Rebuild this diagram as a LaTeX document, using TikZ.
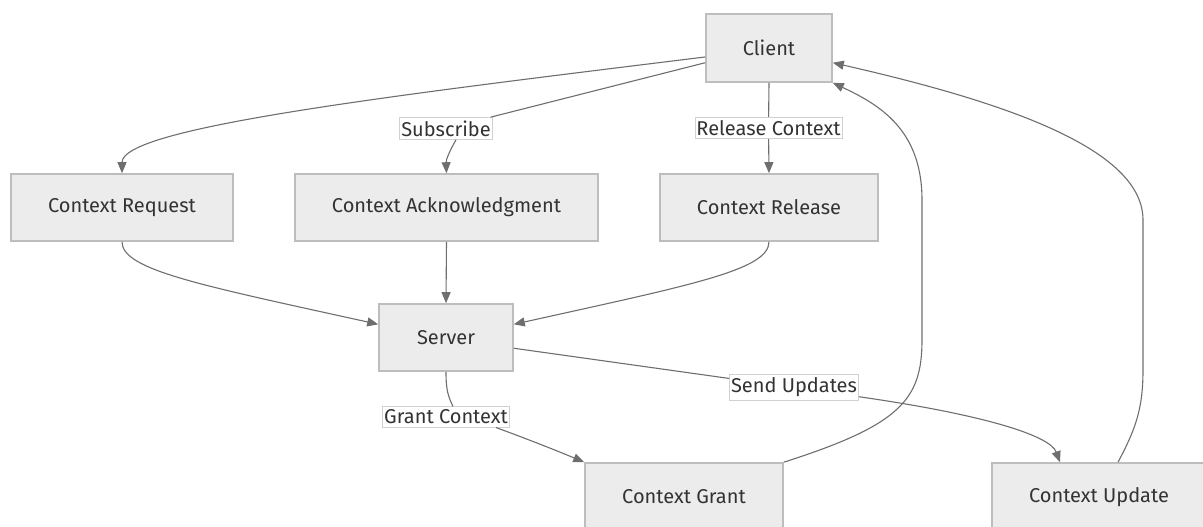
\documentclass[tikz,border=0pt]{standalone}
\usepackage{fontspec}
\setmainfont{Fira Sans}
\usetikzlibrary{arrows.meta,calc}
\definecolor{boxfill}{HTML}{ECECEC}
\definecolor{boxline}{HTML}{BDBDBD}
\definecolor{inkcol}{HTML}{333333}
\definecolor{wirecol}{HTML}{6E6E6E}
\tikzset{
  box/.style={draw=boxline, line width=1.6pt, fill=boxfill, text=inkcol,
    minimum height=67pt, inner sep=0pt, font=\fontsize{20}{24}\selectfont},
  tag/.style={draw=boxline!70, line width=0.8pt, fill=white, text=inkcol,
    inner xsep=1.5pt, inner ysep=3pt, font=\fontsize{20}{24}\selectfont},
  wire/.style={draw=wirecol, line width=1.1pt},
  arr/.style={wire, -{Triangle[length=11pt,width=9pt]}},
}
\begin{document}
\begin{tikzpicture}[x=1pt,y=-1pt]
  \useasboundingbox (0,0) rectangle (1203,527);
  \clip (0,0) rectangle (1203,527);

  % process boxes
  \node[box, minimum width=126pt, minimum height=68pt] (client) at (769,48) {Client};
  \node[box, minimum width=222pt] (req)    at (122,207.5)   {Context Request};
  \node[box, minimum width=303pt] (ack)    at (446.5,207.5) {Context Acknowledgment};
  \node[box, minimum width=218pt] (rel)    at (769,207.5)   {Context Release};
  \node[box, minimum width=134pt] (server) at (446,337.5)   {Server};
  \node[box, minimum width=198pt, minimum height=68pt] (grant)  at (684,497)  {Context Grant};
  \node[box, minimum width=214pt, minimum height=68pt] (update) at (1099,497) {Context Update};

  % edge label boxes
  \node[tag] (sub)   at (446,128.5) {Subscribe};
  \node[tag] (relc)  at (768.5,128) {Release Context};
  \node[tag] (sendu) at (794,387.5) {Send Updates};
  \node[tag] (grantc) at (446,417)  {Grant Context};

  % client to the three request boxes
  \draw[arr] (client.188) .. controls (380,97) and (122,128) .. (req.north);
  \draw[wire] (client.193) -- (sub);
  \draw[arr] ([xshift=10pt]sub.south) .. controls (449,152) and (446,160) .. (ack.north);
  \draw[wire] (client.south) -- (relc);
  \draw[arr] (relc) -- (rel.north);

  % request boxes to server
  \draw[arr] (req.south) .. controls (122,270) and (200,285) .. (server.169);
  \draw[arr] (ack.south) -- (server.north);
  \draw[arr] (rel.south) .. controls (769,270) and (691,285) .. (server.11);

  % server to grant and update
  \draw[wire] (server.south) .. controls (446,390) and (448,396) .. ([xshift=7pt]grantc.north);
  \draw[arr] ([xshift=50pt]grantc.south) .. controls (530,440) and (560,452) .. (grant.north west);
  \draw[wire] (server.351) -- (sendu);
  \draw[arr] (sendu) .. controls (980,414) and (1050,435) .. ([xshift=-39pt]update.north);

  % replies back to the client
  \draw[arr] (grant.north east) .. controls (900,425) and (922,400) .. (922,340)
    -- (922,200) .. controls (922,130) and (880,105) .. (client.south east);
  \draw[arr] ([xshift=19pt]update.north) .. controls (1135,430) and (1143,410) .. (1143,370)
    -- (1143,220) .. controls (1143,150) and (1010,103) .. (client.347);
\end{tikzpicture}
\end{document}
